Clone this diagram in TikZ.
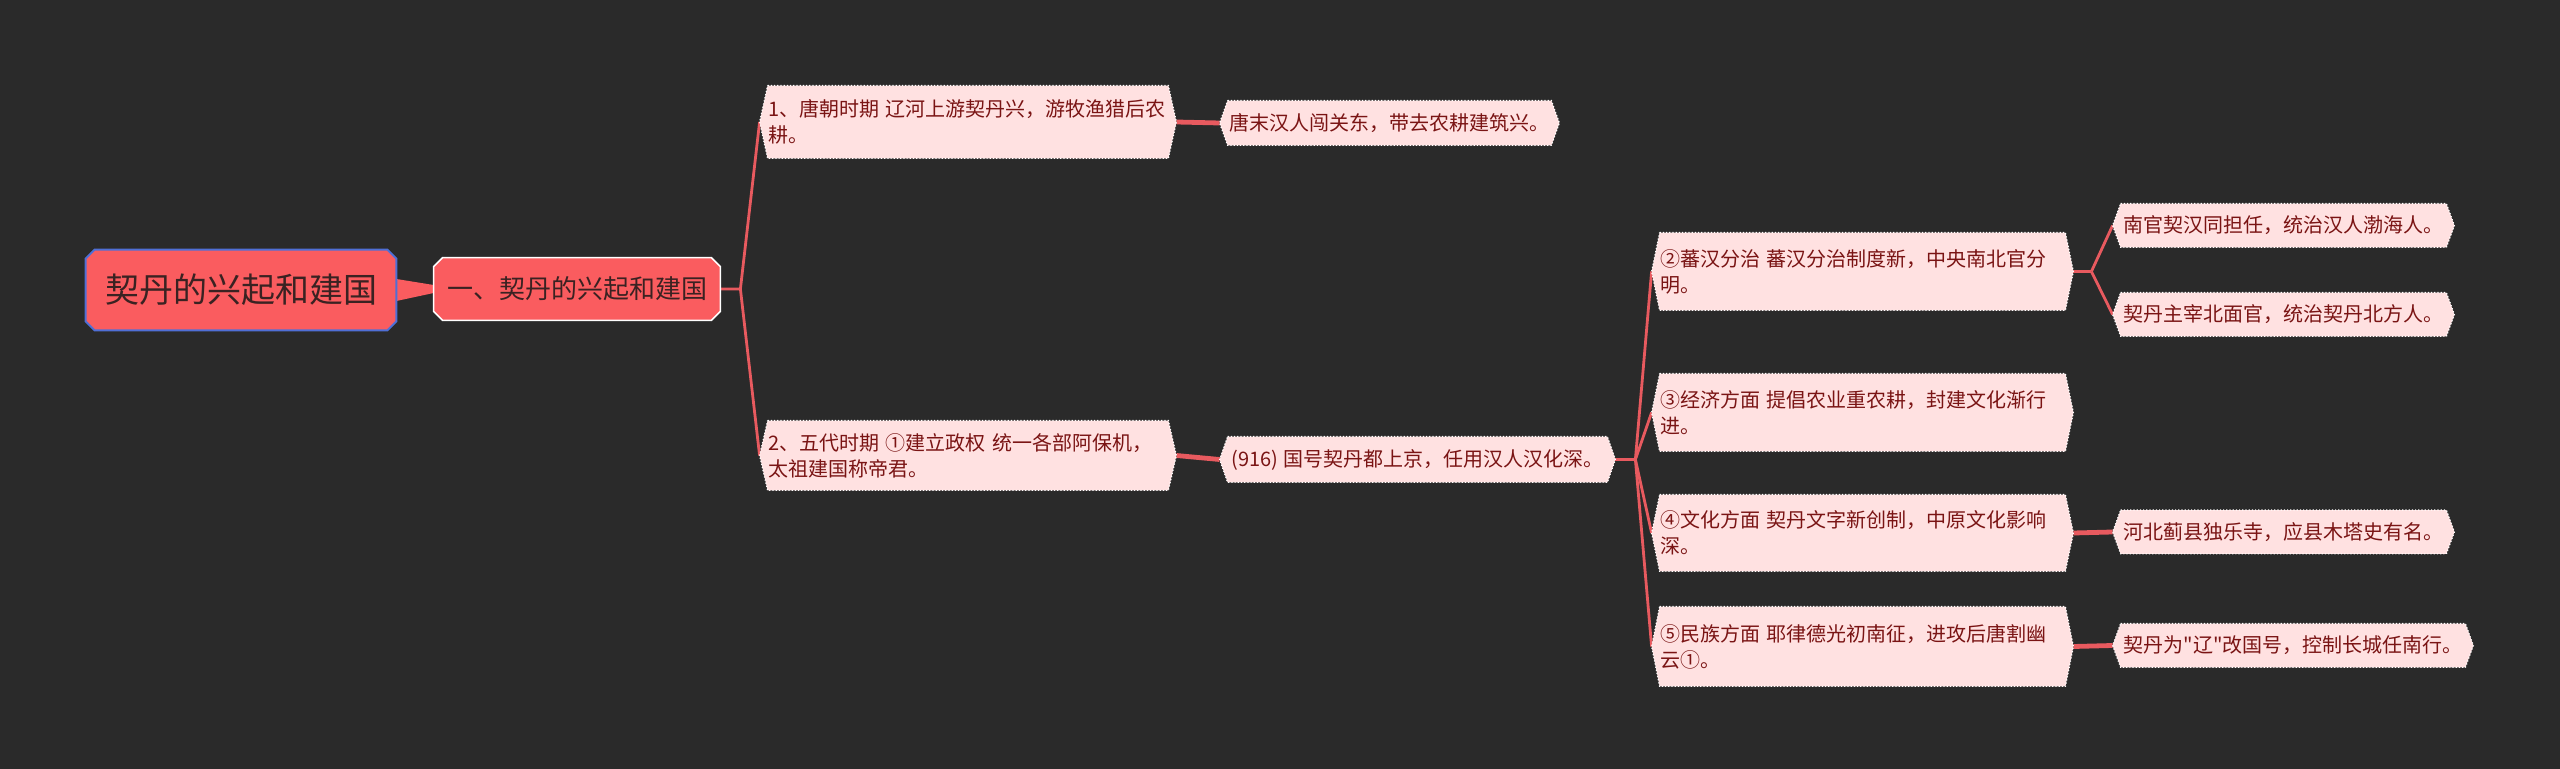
\documentclass[tikz,border=0pt]{standalone}
\usepackage{fontspec}
\newfontfamily\cjk{Noto Sans CJK SC}
\definecolor{bgc}{HTML}{2A2A2A}
\definecolor{rootfill}{HTML}{FA5C5F}
\definecolor{rootborder}{HTML}{4F6FD6}
\definecolor{edgec}{HTML}{E85A5F}
\definecolor{leaffill}{HTML}{FFE1E1}
\definecolor{leaftext}{HTML}{7A1414}
\definecolor{darktext}{HTML}{3A2222}
\pgfdeclarelayer{bg}\pgfdeclarelayer{edges}\pgfdeclarelayer{shapes}
\pgfsetlayers{bg,edges,shapes,main}
\newcommand\leafpoly[1]{\path[leafshape] ([xshift=4pt]#1.north west) -- ([xshift=-4pt]#1.north east) -- (#1.east) -- ([xshift=-4pt]#1.south east) -- ([xshift=4pt]#1.south west) -- (#1.west) -- cycle;}
\newcommand\octpoly[3]{\path[#3] ([xshift=#2]#1.north west) -- ([xshift=-#2]#1.north east) -- ([yshift=-#2]#1.north east) -- ([yshift=#2]#1.south east) -- ([xshift=-#2]#1.south east) -- ([xshift=#2]#1.south west) -- ([yshift=#2]#1.south west) -- ([yshift=-#2]#1.north west) -- cycle;}
\tikzset{
  box/.style={rectangle, inner xsep=4pt, inner ysep=0pt, align=left,
    font=\cjk\fontsize{10pt}{13pt}\selectfont, text=leaftext},
  leafshape/.style={fill=leaffill, draw=white, densely dotted, line width=0.6pt},
  rootshape/.style={fill=rootfill, draw=rootborder, line width=1pt},
  mainshape/.style={fill=rootfill, draw=white, line width=0.8pt},
  edge/.style={draw=edgec, line width=1.4pt, line join=round},
  thickedge/.style={draw=edgec, line width=2.4pt},
}
\begin{document}
\begin{tikzpicture}[x=0.5pt,y=-0.5pt]
\useasboundingbox (0,0) rectangle (2560,769);
\begin{pgfonlayer}{bg}
\fill[bgc] (0,0) rectangle (2560,769);
\end{pgfonlayer}
% nodes
\node[rectangle, inner sep=0pt, minimum width=155pt, minimum height=40pt,
  font=\cjk\fontsize{17pt}{20pt}\selectfont, text=darktext] (root) at (241,290) {契丹的兴起和建国};
\node[rectangle, inner sep=0pt, minimum width=143pt, minimum height=31pt,
  font=\cjk\fontsize{13pt}{16pt}\selectfont, text=darktext] (L1) at (577,289) {一、契丹的兴起和建国};
\node[box, text width=200pt, minimum height=36pt] (n1) at (968,122) {1、唐朝时期 辽河上游契丹兴，游牧渔猎后农\\耕。};
\node[box, minimum width=169.5pt, minimum height=22pt] (n1a) at (1389.5,123) {唐末汉人闯关东，带去农耕建筑兴。};
\node[box, text width=200pt, minimum height=34.5pt] (n2) at (968,455.5) {2、五代时期 ①建立政权 统一各部阿保机，\\太祖建国称帝君。};
\node[box, minimum width=197.5pt, minimum height=22.5pt] (n2a) at (1417.5,459.5) {(916) 国号契丹都上京，任用汉人汉化深。};
\node[box, text width=202.5pt, minimum height=38.5pt] (nB) at (1862.5,271.5) {②蕃汉分治 蕃汉分治制度新，中央南北官分\\明。};
\node[box, minimum width=170.5pt, minimum height=21.5pt] (nBa) at (2283.5,225.5) {南官契汉同担任，统治汉人渤海人。};
\node[box, minimum width=170.5pt, minimum height=21.5pt] (nBb) at (2283.5,314.5) {契丹主宰北面官，统治契丹北方人。};
\node[box, text width=202.5pt, minimum height=38.5pt] (nC) at (1862.5,412.5) {③经济方面 提倡农业重农耕，封建文化渐行\\进。};
\node[box, text width=202.5pt, minimum height=38pt] (nD) at (1862.5,533) {④文化方面 契丹文字新创制，中原文化影响\\深。};
\node[box, minimum width=170.5pt, minimum height=21.5pt] (nDa) at (2283.5,532) {河北蓟县独乐寺，应县木塔史有名。};
\node[box, text width=202.5pt, minimum height=39.5pt] (nE) at (1862.5,646.5) {⑤民族方面 耶律德光初南征，进攻后唐割幽\\云①。};
\node[box, minimum width=180pt, minimum height=21.5pt] (nEa) at (2293,645.5) {契丹为"辽"改国号，控制长城任南行。};
% shapes
\begin{pgfonlayer}{shapes}
\octpoly{root}{4.5pt}{rootshape}
\octpoly{L1}{4.5pt}{mainshape}
\foreach \n in {n1,n1a,n2,n2a,nB,nBa,nBb,nC,nD,nDa,nE,nEa}{\leafpoly{\n}}
\end{pgfonlayer}
% edges
\begin{pgfonlayer}{edges}
\fill[rootfill] ([yshift=5.5pt]root.east) -- ([yshift=2pt]L1.west) -- ([yshift=-2pt]L1.west) -- ([yshift=-5.5pt]root.east) -- cycle;
\coordinate (j1) at ([xshift=10pt]L1.east);
\draw[edge] (L1.east) -- (j1) -- (n1.west);
\draw[edge] (j1) -- (n2.west);
\draw[thickedge] (n1.east) -- (n1a.west);
\draw[thickedge] (n2.east) -- (n2a.west);
\coordinate (j2) at ([xshift=10pt]n2a.east);
\draw[edge] (n2a.east) -- (j2);
\foreach \c in {nB,nC,nD,nE}{\draw[edge] (j2) -- (\c.west);}
\coordinate (j3) at ([xshift=9pt]nB.east);
\draw[edge] (nB.east) -- (j3);
\draw[edge] (j3) -- (nBa.west);
\draw[edge] (j3) -- (nBb.west);
\draw[thickedge] (nD.east) -- (nDa.west);
\draw[thickedge] (nE.east) -- (nEa.west);
\end{pgfonlayer}
\end{tikzpicture}
\end{document}
